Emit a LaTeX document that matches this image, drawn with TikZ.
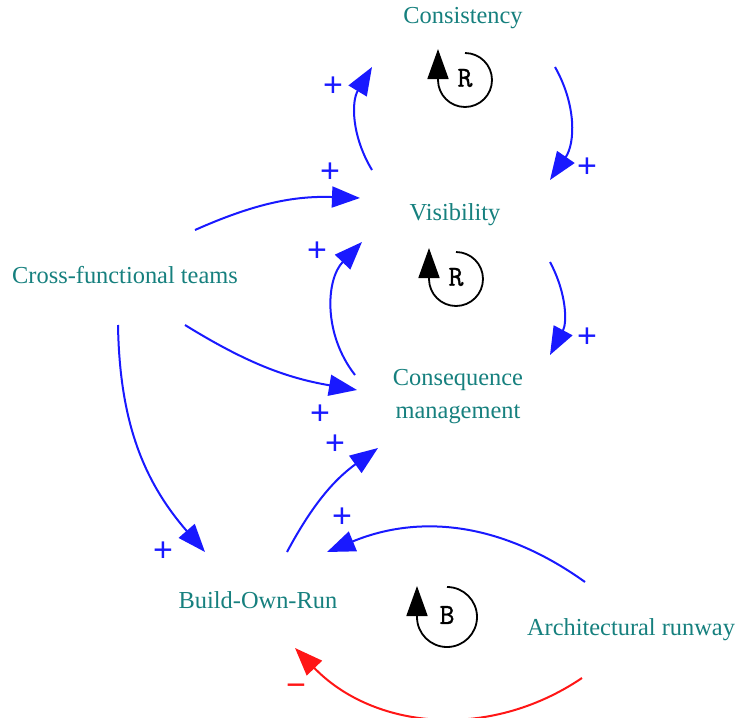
\documentclass[tikz,border=0pt]{standalone}
\usepackage{fontspec}
\setmainfont{Liberation Serif}
\newfontfamily\polfont{Liberation Sans}
\newfontfamily\loopfont[FakeBold=1.2]{Latin Modern Mono}
\usetikzlibrary{arrows.meta}
\definecolor{tealtxt}{RGB}{22,128,126}
\definecolor{linkblue}{RGB}{25,25,255}
\definecolor{linkred}{RGB}{255,22,22}
\tikzset{
  var/.style={text=tealtxt, font=\fontsize{12.2}{16.5}\selectfont, align=center, inner sep=0pt},
  link/.style={draw=linkblue, line width=1pt, -{Triangle[length=14pt,width=10.5pt]}},
  neglink/.style={link, draw=linkred, -{Triangle[length=14pt,width=10.5pt,fill=linkred]}},
  pol/.style={text=linkblue, font=\polfont\fontsize{17}{17}\selectfont, inner sep=0pt},
  negpol/.style={pol, text=linkred},
  looplbl/.style={font=\loopfont\fontsize{14.5}{14.5}\selectfont, inner sep=0pt},
  loopcirc/.style={draw=black, line width=0.9pt, -{Triangle[length=15pt,width=10.5pt]}}
}
\begin{document}
\begin{tikzpicture}[x=0.5pt,y=-0.5pt]
\useasboundingbox (0,0) rectangle (740,718);
% variables
\node[var] (con) at (463,18) {Consistency};
\node[var] (vis) at (455,215) {Visibility};
\node[var] (cft) at (125,275) {Cross-functional teams};
\node[var] (cm)  at (458,397) {Consequence\\management};
\node[var] (bor) at (258,600) {Build-Own-Run};
\node[var] (ar)  at (631,630) {Architectural runway};
% links
\draw[link] ([shift={(-83,-45)}]vis.center) to[bend left=31] ([shift={(-91,49)}]con.center);
\draw[link] ([shift={(92,49)}]con.center) to[bend left=32] ([shift={(95,-35)}]vis.center);
\draw[link] ([shift={(70,-45)}]cft.center) to[bend left=13] ([shift={(-95,-17)}]vis.center);
\draw[link] ([shift={(-103,-22)}]cm.center) to[bend left=41] ([shift={(-93,27)}]vis.center);
\draw[link] ([shift={(95,47)}]vis.center) to[bend left=28] ([shift={(92,-42)}]cm.center);
\draw[link] ([shift={(60,50)}]cft.center) to[bend right=11] ([shift={(-101,-7)}]cm.center);
\draw[link] ([shift={(-7,50)}]cft.center) to[bend right=20] ([shift={(-53,-48)}]bor.center);
\draw[link] ([shift={(29,-48)}]bor.center) to[bend left=13] ([shift={(-80,51)}]cm.center);
\draw[link] ([shift={(-46,-48)}]ar.center) to[bend right=29] ([shift={(69,-48)}]bor.center);
\draw[neglink] ([shift={(-49,48)}]ar.center) to[bend left=40] ([shift={(37,48)}]bor.center);
% polarities
\node[pol] (p1) at (333,87) {+};
\node[pol] (p2) at (587,168) {+};
\node[pol] (p3) at (330,173) {+};
\node[pol] (p4) at (317,252) {+};
\node[pol] (p5) at (587,338) {+};
\node[pol] (p6) at (320,415) {+};
\node[pol] (p7) at (163,552) {+};
\node[pol] (p8) at (335,445) {+};
\node[pol] (p9) at (342,518) {+};
\node[negpol] (p10) at (296,690) {−};
% loop markers
\node[looplbl] (l1) at (465,78) {R};
\draw[loopcirc] ([shift={(0,-25)}]l1.center) arc[start angle=-90,end angle=180,radius=27] -- ++(0,-31);
\node[looplbl] (l2) at (456,277) {R};
\draw[loopcirc] ([shift={(0,-25)}]l2.center) arc[start angle=-90,end angle=180,radius=27] -- ++(0,-31);
\node[looplbl] (l3) at (447,615) {B};
\draw[loopcirc] ([shift={(0,-28)}]l3.center) arc[start angle=-90,end angle=180,radius=30] -- ++(0,-31);
\end{tikzpicture}
\end{document}
